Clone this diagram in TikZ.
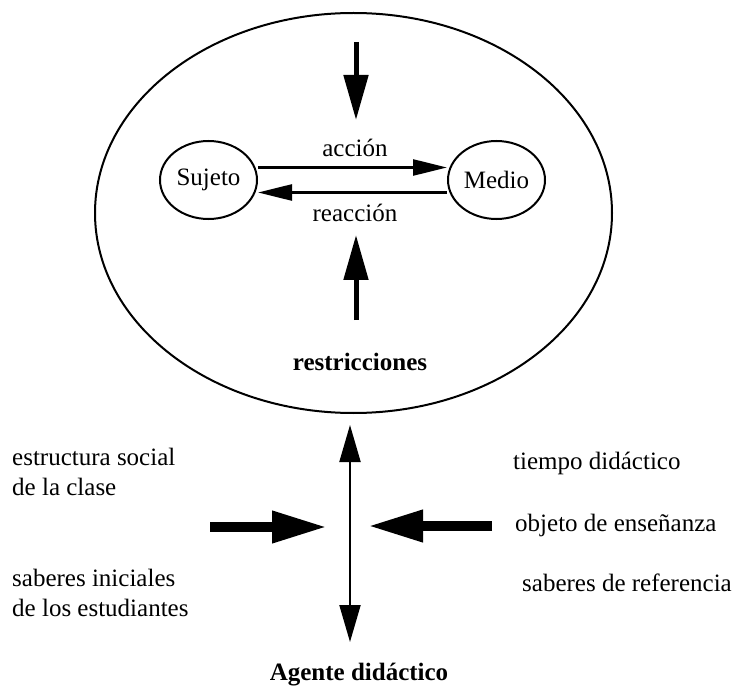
\documentclass[tikz,border=0pt]{standalone}
\usepackage{fontspec}
\setmainfont{Liberation Serif}
\usetikzlibrary{arrows.meta,shapes.geometric}
\begin{document}
\begin{tikzpicture}[x=1pt,y=-1pt,
  txt/.style={font=\fontsize{25}{30}\selectfont, inner sep=0pt},
  lbl/.style={txt, align=left, anchor=west},
  oval/.style={draw, line width=2pt, ellipse, inner sep=0pt, minimum width=97pt, minimum height=78pt, font=\fontsize{25}{30}\selectfont},
  bigoval/.style={draw, line width=2pt, ellipse, inner sep=0pt, minimum width=517pt, minimum height=400pt},
  fatarrow/.style={line width=5pt, -{Triangle[length=45pt,width=24pt]}},
  thickarrow/.style={line width=10pt, -{Triangle[length=55pt,width=30pt]}},
  midarrow/.style={line width=2.5pt, -{Triangle[length=34pt,width=16pt]}},
  dblarrow/.style={line width=2pt, {Triangle[length=37pt,width=21pt]}-{Triangle[length=37pt,width=21pt]}}
]
\useasboundingbox (0,0) rectangle (748,698);
\node[bigoval] (big) at (353.5,213) {};
\node[oval] (suj) at (208.5,180) {Sujeto};
\node[oval] (med) at (496.5,180) {Medio};
\draw[midarrow] ([yshift=12.5pt]suj.east) -- ([yshift=12.5pt]med.west);
\draw[midarrow] ([yshift=-12.5pt]med.west) -- ([yshift=-12.5pt]suj.east);
\node[txt] (acc) at (355,148) {acción};
\node[txt] (reac) at (355,213) {reacción};
\coordinate (t1) at (356,42);
\coordinate (t2) at (356,120);
\draw[fatarrow] (t1) -- (t2);
\coordinate (b1) at (356,320);
\coordinate (b2) at (356,235);
\draw[fatarrow] (b1) -- (b2);
\node[txt, font=\fontsize{25}{30}\selectfont\bfseries] (res) at (360,362) {restricciones};
\coordinate (vtop) at (350,425);
\coordinate (vbot) at (350,642);
\draw[dblarrow] (vbot) -- (vtop);
\coordinate (l1) at (210,527);
\coordinate (l2) at (327,527);
\draw[thickarrow] (l1) -- (l2);
\coordinate (r1) at (492,526);
\coordinate (r2) at (368,526);
\draw[thickarrow] (r1) -- (r2);
\node[lbl] (es) at (12,472) {estructura social\\de la clase};
\node[lbl] (si) at (12,593) {saberes iniciales\\de los estudiantes};
\node[lbl] (td) at (513,463) {tiempo didáctico};
\node[lbl] (oe) at (515,525) {objeto de enseñanza};
\node[lbl] (sr) at (522,583) {saberes de referencia};
\node[txt, font=\fontsize{25}{30}\selectfont\bfseries] (ag) at (359,675) {Agente didáctico};
\end{tikzpicture}
\end{document}
